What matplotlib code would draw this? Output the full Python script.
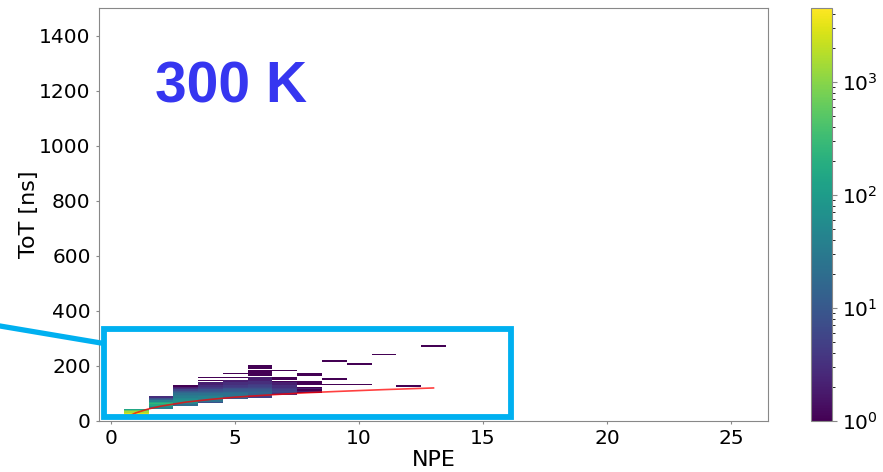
import numpy as np
import matplotlib
matplotlib.use("Agg")
import matplotlib.pyplot as plt
from matplotlib.colors import LogNorm
from matplotlib.patches import Rectangle
from matplotlib.lines import Line2D

# ---- 2D histogram content: ToT bin centres [ns] and counts per NPE column ----
tot_npe1 = [17.5, 22.5, 27.5, 32.5, 37.5, 42.5]
cnt_npe1 = [4000, 4490, 3000, 1500, 600, 150]

tot_npe2 = [47.5, 52.5, 57.5, 62.5, 67.5, 72.5, 77.5, 82.5, 87.5]
cnt_npe2 = [40, 70, 160, 250, 150, 40, 15, 8, 3]

tot_npe3 = [57.5, 62.5, 67.5, 72.5, 77.5, 82.5, 87.5, 92.5, 97.5, 102.5,
            107.5, 112.5, 117.5, 122.5, 127.5]
cnt_npe3 = [20, 45, 70, 70, 60, 50, 35, 30, 22, 15, 10, 6, 3, 2, 1]

tot_npe4 = [67.5, 72.5, 77.5, 82.5, 87.5, 92.5, 97.5, 102.5, 107.5, 112.5,
            117.5, 122.5, 127.5, 132.5, 137.5, 147.5, 157.5]
cnt_npe4 = [8, 25, 40, 45, 40, 30, 22, 15, 10, 8, 5, 4, 3, 2, 2, 1, 1]

tot_npe5 = [82.5, 87.5, 92.5, 97.5, 102.5, 107.5, 112.5, 117.5, 122.5, 127.5,
            132.5, 137.5, 142.5, 147.5, 157.5, 172.5]
cnt_npe5 = [10, 20, 25, 22, 18, 12, 10, 8, 5, 4, 3, 3, 2, 2, 1, 1]

tot_npe6 = [87.5, 92.5, 97.5, 102.5, 107.5, 112.5, 117.5, 122.5, 127.5, 132.5,
            137.5, 142.5, 147.5, 152.5, 157.5, 167.5, 172.5, 177.5, 182.5,
            192.5, 197.5, 202.5]
cnt_npe6 = [5, 10, 14, 15, 12, 10, 8, 6, 5, 4, 3, 3, 2, 2, 2, 1, 1, 1, 1,
            1, 1, 1]

tot_npe7 = [97.5, 102.5, 107.5, 112.5, 117.5, 122.5, 127.5, 132.5, 137.5,
            142.5, 152.5, 157.5, 182.5]
cnt_npe7 = [3, 5, 6, 5, 4, 3, 3, 2, 2, 1, 1, 1, 1]

tot_npe8 = [102.5, 107.5, 112.5, 117.5, 122.5, 132.5, 137.5, 142.5, 167.5, 172.5]
cnt_npe8 = [1, 2, 1, 2, 1, 1, 1, 1, 1, 1]

tot_npe9 = [132.5, 152.5, 217.5]
cnt_npe9 = [1, 1, 1]

tot_npe10 = [132.5, 207.5]
cnt_npe10 = [1, 1]

tot_npe11 = [242.5]
cnt_npe11 = [1]

tot_npe12 = [127.5]
cnt_npe12 = [1]

tot_npe13 = [272.5]
cnt_npe13 = [1]

columns = {
    1: (tot_npe1, cnt_npe1), 2: (tot_npe2, cnt_npe2), 3: (tot_npe3, cnt_npe3),
    4: (tot_npe4, cnt_npe4), 5: (tot_npe5, cnt_npe5), 6: (tot_npe6, cnt_npe6),
    7: (tot_npe7, cnt_npe7), 8: (tot_npe8, cnt_npe8), 9: (tot_npe9, cnt_npe9),
    10: (tot_npe10, cnt_npe10), 11: (tot_npe11, cnt_npe11),
    12: (tot_npe12, cnt_npe12), 13: (tot_npe13, cnt_npe13),
}

# ---- ToT vs NPE fit curve ----
fit_npe = [0.7, 1.0, 1.5, 2.0, 3.0, 4.0, 5.0, 6.0, 7.0, 8.0, 9.0, 10.0, 11.0, 12.0, 13.0]
fit_tot = [17.5, 30.0, 44.0, 54.0, 68.5, 78.5, 86.5, 92.5, 98.0, 103.0, 107.0,
           110.5, 114.0, 117.0, 120.0]

x_ticks = [0, 5, 10, 15, 20, 25]
y_ticks = [0, 200, 400, 600, 800, 1000, 1200, 1400]

npe_vals, tot_vals, weights = [], [], []
for npe, (tots, cnts) in columns.items():
    npe_vals += [npe] * len(tots)
    tot_vals += tots
    weights += cnts

x_edges = np.arange(-0.5, 27.0, 1.0)
y_edges = np.arange(0, 1505, 5)

W, H = 883, 472
fig = plt.figure(figsize=(W / 100, H / 100), dpi=100)
ax = fig.add_axes([99 / W, 1 - 421 / H, 669 / W, 413 / H])
cax = fig.add_axes([811 / W, 1 - 421 / H, 21 / W, 413 / H])

h = ax.hist2d(npe_vals, tot_vals, bins=[x_edges, y_edges], weights=weights,
              cmin=1, cmap="viridis",
              norm=LogNorm(vmin=1, vmax=max(weights)))
ax.plot(fit_npe, fit_tot, color="red", lw=1.2, alpha=0.75)

ax.set_xlim(-0.5, 26.5)
ax.set_ylim(0, 1500)
ax.set_xticks(x_ticks)
ax.set_yticks(y_ticks)
ax.tick_params(labelsize=14.5, color="#888888", length=2.5)
for s in ax.spines.values():
    s.set_color("#888888")
ax.set_xlabel("NPE", fontsize=16, labelpad=1)
ax.set_ylabel("ToT [ns]", fontsize=16, labelpad=0)

cb = fig.colorbar(h[3], cax=cax)
cb.ax.tick_params(labelsize=14.5, color="#888888")
cb.outline.set_edgecolor("#888888")

ax.text(0.0837, 0.770, "300 K", transform=ax.transAxes, fontsize=41,
        fontweight="bold", color="#3636f0",
        family=["Liberation Sans", "DejaVu Sans"],
        va="baseline", ha="left")

# highlight frame around the populated region and its pointer line
frame = Rectangle((104 / W, 1 - 417 / H), (511 - 104) / W, (417 - 329) / H,
                  transform=fig.transFigure, fill=False, edgecolor="#00b0f0",
                  lw=4.2, zorder=10, joinstyle="miter")
fig.add_artist(frame)
fig.add_artist(Line2D([0, 101 / W], [1 - 326 / H, 1 - 343 / H],
                      transform=fig.transFigure, color="#00b0f0", lw=3.8,
                      zorder=10))

fig.savefig("out.png", dpi=100)
